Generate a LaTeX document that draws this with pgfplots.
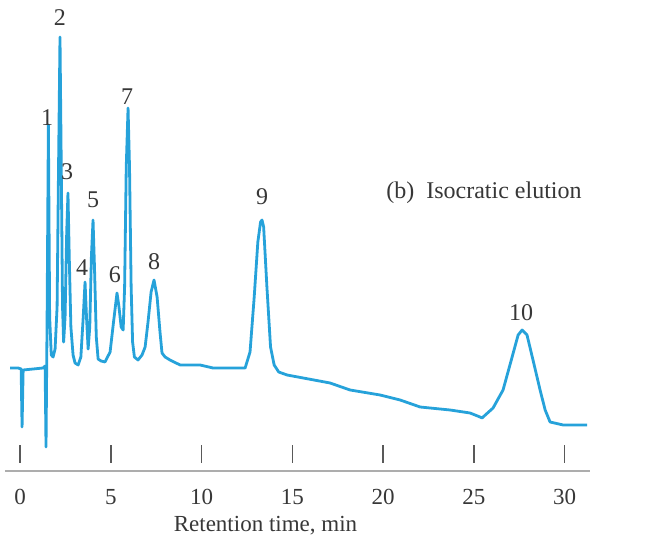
\documentclass[border=0pt]{standalone}
\usepackage{pgfplots}
\pgfplotsset{compat=1.18}
\usepackage{fontspec}
\setmainfont{Liberation Serif}
\definecolor{trace}{RGB}{38,162,218}
\definecolor{txt}{RGB}{55,55,55}
\begin{document}
\begin{tikzpicture}
\path[use as bounding box] (-2.5pt,-32pt) rectangle (324.5pt,235.5pt);
\begin{axis}[
  at={(0,0)}, anchor=south west,
  scale only axis, width=292.5pt, height=230.5pt,
  xmin=-0.83, xmax=31.4, ymin=-4, ymax=457,
  axis x line=bottom, axis y line=none,
  x axis line style={draw=black!32, line width=1.3pt, -},
  xtick={0,5,...,30},
  tick align=inside,
  major tick length=9pt,
  xtick style={draw=black!65, line width=0.7pt, yshift=4pt},
  xticklabel style={font=\fontsize{11.5}{13}\selectfont, text=txt, yshift=-5.5pt},
  /pgf/number format/assume math mode=true,
  xlabel={Retention time, min},
  xlabel style={font=\fontsize{11.5}{13}\selectfont, text=txt, yshift=1pt, xshift=-16pt},
  clip=false,
]
\addplot[trace, line width=1.4pt, line join=round] coordinates {
(-0.55,99) (-0.11,99) (0.06,98) (0.11,40) (0.17,97) (1.27,99) (1.38,101)
(1.43,20) (1.49,150) (1.56,342) (1.63,150) (1.72,112) (1.82,110) (1.93,118)
(2.04,160) (2.12,300) (2.20,430) (2.27,300) (2.34,160) (2.40,125) (2.48,150)
(2.57,235) (2.64,274) (2.71,210) (2.80,140) (2.92,112) (3.03,104) (3.20,102)
(3.35,110) (3.48,150) (3.58,185) (3.66,150) (3.75,118) (3.84,140) (3.93,210)
(4.02,247) (4.10,200) (4.20,130) (4.30,108) (4.46,106) (4.68,105) (4.96,115)
(5.15,145) (5.34,174) (5.45,160) (5.57,140) (5.68,137) (5.76,180) (5.85,300)
(5.95,359) (6.03,300) (6.12,180) (6.20,125) (6.30,110) (6.50,107) (6.72,112)
(6.89,120) (7.05,145) (7.22,175) (7.38,187) (7.55,170) (7.71,135) (7.82,114)
(7.99,110) (8.26,107) (8.82,102) (9.92,102) (10.63,99) (12.40,99)
(12.67,115) (12.90,170) (13.10,225) (13.25,245) (13.33,247) (13.42,240)
(13.60,180) (13.80,120) (14.00,102) (14.25,95) (14.71,92) (17.08,84)
(18.18,77) (19.83,72) (20.94,67) (22.04,60) (23.69,57) (24.79,54) (25.34,50)
(25.45,49) (26.06,59) (26.61,77)
(27.11,110) (27.44,132) (27.66,137) (27.93,132) (28.26,107) (28.65,77)
(28.93,57) (29.20,45) (29.92,42) (31.24,42)
};
\begin{scope}[every node/.style={font=\fontsize{12}{14}\selectfont, text=txt, inner sep=0pt}]
\node at (axis cs:1.49,349) {1};
\node at (axis cs:2.20,449) {2};
\node at (axis cs:2.59,295) {3};
\node at (axis cs:3.42,199) {4};
\node at (axis cs:4.02,267) {5};
\node at (axis cs:5.23,192) {6};
\node at (axis cs:5.90,370) {7};
\node at (axis cs:7.38,205) {8};
\node at (axis cs:13.33,270) {9};
\node at (axis cs:27.60,154) {10};
\node at (axis cs:25.56,274) {(b)\ \ Isocratic elution};
\end{scope}
\end{axis}
\end{tikzpicture}
\end{document}
